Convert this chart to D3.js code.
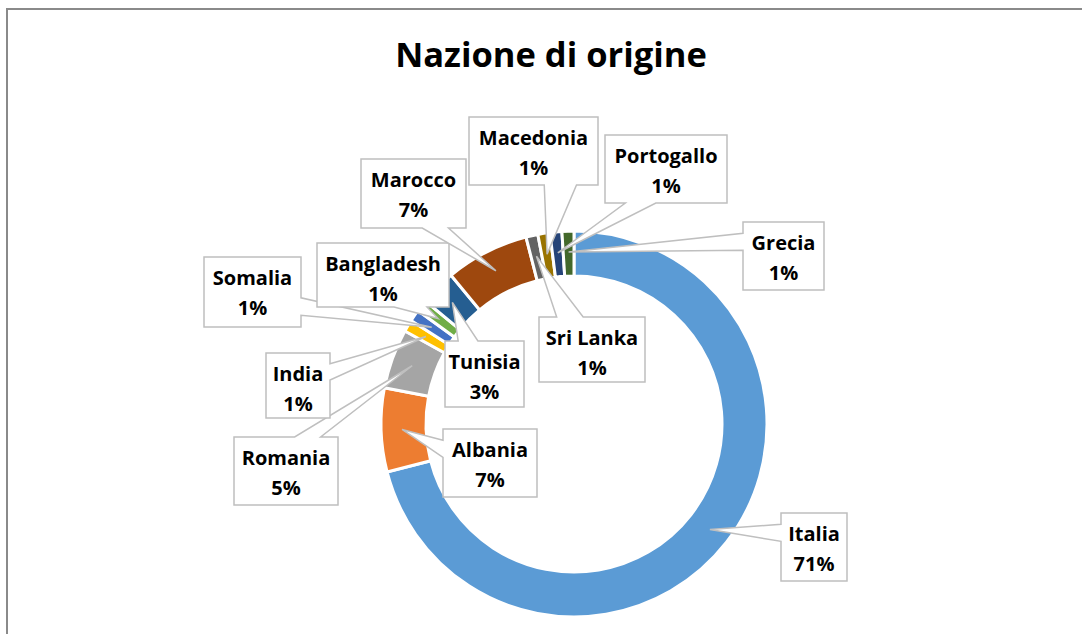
<!DOCTYPE html>
<html>
<head>
<meta charset="utf-8">
<script src="https://cdn.jsdelivr.net/npm/d3@7"></script>
<style>
  html, body { margin: 0; padding: 0; background: #fff; }
  svg { display: block; }
  text { font-family: "Open Sans", "Noto Sans", sans-serif; font-weight: 700; fill: #000; }
</style>
</head>
<body>
<svg id="chart" width="1082" height="634"></svg>
<script>
// ---- data ----
const categories = ["Italia", "Albania", "Romania", "India", "Somalia", "Bangladesh",
                    "Tunisia", "Marocco", "Sri Lanka", "Macedonia", "Portogallo", "Grecia"];
const values = [71, 7, 5, 1, 1, 1, 3, 7, 1, 1, 1, 1];
const title = "Nazione di origine";

// ---- styles / layout ----
const palette = ["#5B9BD5", "#ED7D31", "#A5A5A5", "#FFC000", "#4472C4", "#70AD47",
                 "#255E91", "#9E480E", "#636363", "#997300", "#264478", "#43682B"];
// callout boxes [x0, y0, x1, y1]
const boxes = [
  [781, 513, 847, 581], [443, 429, 537, 497], [234, 437, 338, 505], [266, 353, 330, 418],
  [204, 257, 301, 327], [317, 243, 449, 307], [445, 341, 524, 407], [361, 159, 466, 228],
  [539, 317, 645, 382], [469, 117, 598, 185], [605, 135, 727, 203], [743, 222, 824, 290]
];

const W = 1082, H = 634;
const cx = 574, cy = 424, rOuter = 193, rInner = 148, rTip = 172;

const svg = d3.select("#chart");

// chart frame
svg.append("rect")
  .attr("x", 7).attr("y", 9).attr("width", 1200).attr("height", 800)
  .attr("fill", "#fff").attr("stroke", "#8a8a8a").attr("stroke-width", 2);

// title
svg.append("text")
  .attr("x", 551).attr("y", 67)
  .attr("text-anchor", "middle")
  .style("font-size", "34.5px")
  .text(title);

const color = d3.scaleOrdinal().domain(categories).range(palette);
const pie = d3.pie().sort(null).value(d => d.v).startAngle(0).endAngle(2 * Math.PI);
const arcs = pie(categories.map((c, i) => ({ c, v: values[i] })));

const arc = d3.arc().innerRadius(rInner).outerRadius(rOuter);
const tipArc = d3.arc().innerRadius(rTip).outerRadius(rTip);

const g = svg.append("g").attr("transform", `translate(${cx},${cy})`);
g.selectAll("path.slice")
  .data(arcs)
  .join("path")
  .attr("class", "slice")
  .attr("d", arc)
  .attr("fill", d => color(d.data.c))
  .attr("stroke", "#fff")
  .attr("stroke-width", 3)
  .attr("stroke-linejoin", "miter");

// callout path builder (rectangle with wedge toward tip)
function calloutPath(b, tx, ty) {
  const [x0, y0, x1, y1] = b;
  const w = x1 - x0, h = y1 - y0;
  const bx = (x0 + x1) / 2, by = (y0 + y1) / 2;
  const nx = (tx - bx) / w, ny = (ty - by) / h;
  let side;
  if (Math.abs(nx) > Math.abs(ny)) side = nx < 0 ? "left" : "right";
  else side = ny < 0 ? "top" : "bottom";
  const fx = tx < bx ? [2 / 12, 5 / 12] : [7 / 12, 10 / 12];
  const fy = ty < by ? [2 / 12, 5 / 12] : [7 / 12, 10 / 12];
  const p = d3.path();
  p.moveTo(x0, y0);
  if (side === "top") {
    p.lineTo(x0 + w * fx[0], y0); p.lineTo(tx, ty); p.lineTo(x0 + w * fx[1], y0);
  }
  p.lineTo(x1, y0);
  if (side === "right") {
    p.lineTo(x1, y0 + h * fy[0]); p.lineTo(tx, ty); p.lineTo(x1, y0 + h * fy[1]);
  }
  p.lineTo(x1, y1);
  if (side === "bottom") {
    p.lineTo(x0 + w * fx[1], y1); p.lineTo(tx, ty); p.lineTo(x0 + w * fx[0], y1);
  }
  p.lineTo(x0, y1);
  if (side === "left") {
    p.lineTo(x0, y0 + h * fy[1]); p.lineTo(tx, ty); p.lineTo(x0, y0 + h * fy[0]);
  }
  p.closePath();
  return p.toString();
}

const labels = svg.append("g");
arcs.forEach((d, i) => {
  const [tx0, ty0] = tipArc.centroid(d);
  const tx = tx0 + cx, ty = ty0 + cy;
  const b = boxes[i];
  const lg = labels.append("g");
  lg.append("path")
    .attr("d", calloutPath(b, tx, ty))
    .attr("fill", "#fff")
    .attr("stroke", "#bfbfbf")
    .attr("stroke-width", 1.5)
    .attr("stroke-linejoin", "miter");
  const mx = (b[0] + b[2]) / 2;
  lg.append("text")
    .attr("x", mx).attr("y", b[1] + 28)
    .attr("text-anchor", "middle")
    .style("font-size", "20px")
    .text(d.data.c);
  lg.append("text")
    .attr("x", mx).attr("y", b[1] + 58)
    .attr("text-anchor", "middle")
    .style("font-size", "20px")
    .text(d3.format(".0f")(d.data.v) + "%");
});
</script>
</body>
</html>
